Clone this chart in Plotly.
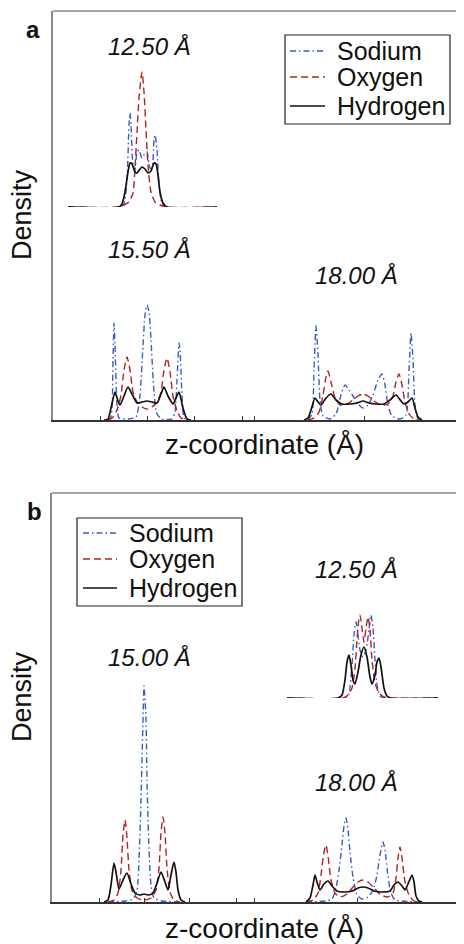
import plotly.graph_objects as go

# ---------------- data (z in arbitrary Å-like units, density in arbitrary units) ----------------
species = ["Sodium", "Oxygen", "Hydrogen"]

# Panel a, 15.50 Å
a1550_na_z = [5.5,5.8,6.0,6.1,6.2,6.4,6.6,7.5,8.3,8.7,9.0,9.2,9.4,9.6,9.8,10.1,10.4,10.9,11.9,12.2,12.4,12.6,12.7,12.9,13.1,13.4]
a1550_na_d = [0,0.03,0.60,0.97,0.75,0.15,0.02,0.01,0.03,0.25,0.75,1.05,1.15,1.08,0.80,0.28,0.06,0.01,0.01,0.08,0.40,0.77,0.70,0.25,0.02,0]
a1550_o_z = [5.5,5.9,6.4,6.8,7.1,7.4,7.7,8.0,8.4,8.9,9.4,9.9,10.4,10.8,11.1,11.4,11.7,12.0,12.4,12.8,13.3]
a1550_o_d = [0,0.02,0.10,0.25,0.50,0.63,0.50,0.28,0.18,0.13,0.11,0.13,0.18,0.28,0.50,0.62,0.48,0.24,0.09,0.02,0]
a1550_h_z = [5.1,5.5,5.8,6.2,6.5,6.7,7.1,7.5,7.9,8.4,8.9,9.4,9.9,10.4,10.8,11.1,11.5,12.0,12.3,12.6,13.0,13.4,13.8]
a1550_h_d = [0,0.01,0.12,0.28,0.19,0.15,0.24,0.33,0.26,0.17,0.18,0.19,0.18,0.17,0.26,0.33,0.24,0.16,0.22,0.28,0.12,0.01,0]

# Panel a, 18.00 Å
a1800_na_z = [25.5,25.9,26.1,26.3,26.5,26.7,27.0,27.7,28.3,28.8,29.2,29.6,30.0,30.5,31.0,31.5,32.0,32.5,32.9,33.2,33.5,33.9,34.7,35.3,35.6,35.8,36.0,36.2,36.5,36.8]
a1800_na_d = [0,0.06,0.50,0.94,0.65,0.20,0.04,0.01,0.06,0.25,0.35,0.30,0.24,0.16,0.12,0.15,0.25,0.40,0.46,0.35,0.15,0.04,0.01,0.05,0.50,0.87,0.60,0.15,0.01,0]
a1800_o_z = [25.5,26.1,26.6,27.0,27.3,27.5,27.8,28.2,28.7,29.4,30.0,30.5,31.0,31.5,32.1,32.8,33.5,34.0,34.3,34.6,34.9,35.2,35.6,36.1,36.5]
a1800_o_d = [0,0.02,0.08,0.25,0.43,0.49,0.38,0.22,0.15,0.16,0.20,0.24,0.26,0.24,0.19,0.15,0.16,0.24,0.38,0.46,0.35,0.18,0.06,0.01,0]
a1800_h_z = [25.1,25.5,25.8,26.2,26.5,26.8,27.3,27.8,28.3,28.9,29.7,30.4,31.0,31.6,32.3,33.1,33.7,34.3,34.8,35.1,35.5,35.9,36.2,36.5,36.9]
a1800_h_d = [0,0.02,0.10,0.22,0.18,0.15,0.22,0.26,0.20,0.16,0.16,0.17,0.19,0.17,0.16,0.16,0.20,0.25,0.19,0.16,0.18,0.22,0.12,0.03,0]

# Panel a, 12.50 Å (inset)
a1250_na_z = [0,5.2,5.6,5.9,6.1,6.2,6.3,6.5,6.7,6.9,7.1,7.4,7.7,7.9,8.2,8.4,8.6,8.7,8.9,9.1,9.4,9.8,14.9]
a1250_na_d = [0,0,0.03,0.27,0.82,0.94,0.82,0.42,0.37,0.55,0.57,0.49,0.54,0.55,0.39,0.39,0.67,0.72,0.57,0.22,0.04,0,0]
a1250_o_z = [0,5.0,5.6,6.1,6.5,6.7,6.9,7.1,7.4,7.6,7.8,8.0,8.3,8.7,9.2,9.8,14.9]
a1250_o_d = [0,0,0.02,0.05,0.14,0.39,0.75,1.09,1.35,1.15,0.77,0.42,0.15,0.05,0.02,0,0]
a1250_h_z = [0,5.1,5.4,5.7,6.0,6.2,6.4,6.7,6.9,7.2,7.4,7.7,8.0,8.3,8.6,8.8,9.0,9.2,9.5,9.9,14.9]
a1250_h_d = [0,0,0.03,0.15,0.35,0.44,0.43,0.35,0.34,0.38,0.40,0.38,0.34,0.36,0.44,0.43,0.32,0.15,0.04,0,0]

# Panel b, 15.00 Å
b1500_na_z = [5.6,7.3,8.1,8.5,8.7,8.9,9.1,9.2,9.4,9.5,9.7,9.9,10.2,11.0,12.8]
b1500_na_d = [0,0.01,0.03,0.12,0.42,1.02,1.82,2.16,1.82,1.22,0.52,0.17,0.04,0.01,0]
b1500_o_z = [5.6,6.2,6.6,6.9,7.1,7.3,7.5,7.7,8.0,8.5,9.2,9.9,10.4,10.7,10.9,11.1,11.3,11.5,11.8,12.2,12.8]
b1500_o_d = [0,0.02,0.09,0.32,0.67,0.82,0.64,0.32,0.12,0.04,0.02,0.04,0.12,0.34,0.69,0.85,0.69,0.34,0.10,0.02,0]
b1500_h_z = [5.2,5.6,5.9,6.2,6.4,6.7,7.1,7.5,7.9,8.3,8.8,9.2,9.7,10.1,10.5,10.9,11.3,11.6,11.9,12.2,12.4,12.6,12.9,13.3]
b1500_h_d = [0,0.02,0.17,0.39,0.30,0.13,0.22,0.29,0.18,0.09,0.07,0.08,0.07,0.09,0.19,0.30,0.20,0.12,0.27,0.40,0.30,0.12,0.02,0]

# Panel b, 18.00 Å
b1800_na_z = [25.4,27.3,28.0,28.4,28.7,29.0,29.2,29.4,29.6,29.8,30.1,30.5,31.0,31.6,32.1,32.5,32.8,33.1,33.3,33.6,33.9,34.3,35.0,36.8]
b1800_na_d = [0,0.01,0.03,0.14,0.32,0.57,0.76,0.84,0.72,0.50,0.25,0.07,0.03,0.05,0.12,0.27,0.47,0.60,0.52,0.26,0.09,0.02,0.01,0]
b1800_o_z = [25.4,26.1,26.6,26.9,27.2,27.4,27.6,27.9,28.3,28.8,29.5,30.1,30.6,31.1,31.6,32.2,32.9,33.6,34.1,34.4,34.6,34.8,35.0,35.3,35.7,36.2,36.8]
b1800_o_d = [0,0.02,0.09,0.27,0.50,0.57,0.46,0.22,0.09,0.05,0.08,0.15,0.20,0.22,0.20,0.14,0.07,0.05,0.09,0.24,0.44,0.55,0.44,0.20,0.07,0.01,0]
b1800_h_z = [25.4,25.8,26.1,26.3,26.5,26.8,27.2,27.6,28.0,28.5,29.3,30.0,30.6,31.1,31.6,32.2,33.0,33.8,34.2,34.6,35.0,35.3,35.6,36.0,36.2,36.4,36.7,37.0]
b1800_h_d = [0,0.04,0.17,0.27,0.20,0.12,0.18,0.21,0.16,0.11,0.10,0.11,0.14,0.15,0.14,0.11,0.10,0.11,0.17,0.20,0.16,0.12,0.18,0.27,0.20,0.06,0.01,0]

# Panel b, 12.50 Å (inset)
b1250_na_z = [0,5.9,6.2,6.5,6.7,6.9,7.1,7.3,7.6,7.9,8.2,8.4,8.6,8.8,9.0,9.3,9.7,15.1]
b1250_na_d = [0,0,0.04,0.33,0.63,0.76,0.63,0.48,0.41,0.48,0.68,0.83,0.70,0.38,0.13,0.02,0,0]
b1250_o_z = [0,5.6,6.1,6.5,6.8,7.0,7.2,7.3,7.5,7.7,7.9,8.1,8.3,8.5,8.8,9.2,9.7,10.1,15.1]
b1250_o_d = [0,0,0.03,0.10,0.30,0.58,0.80,0.83,0.70,0.56,0.70,0.81,0.68,0.38,0.15,0.05,0.01,0,0]
b1250_h_z = [0,5.1,5.5,5.8,6.0,6.2,6.4,6.6,6.8,7.1,7.4,7.7,8.0,8.3,8.5,8.8,9.0,9.2,9.4,9.7,10.0,10.4,15.1]
b1250_h_d = [0,0,0.03,0.18,0.36,0.43,0.33,0.18,0.14,0.26,0.43,0.51,0.41,0.21,0.14,0.23,0.36,0.40,0.31,0.10,0.02,0,0]

a_ticks = [4.7, 9.4, 14.1, 18.9, 20.1, 31.1]
b_ticks = [4.7, 9.2, 13.7, 18.4, 20.2, 30.5]

a_labels = ["12.50 Å", "15.50 Å", "18.00 Å"]
b_labels = ["12.50 Å", "15.00 Å", "18.00 Å"]

# ---------------- styling / layout ----------------
W, H = 464, 944          # target picture size
OFF = 8                  # browser default body margin
FW, FH = W - OFF, H - OFF  # figure size so that it fills the window
FONT = "Liberation Sans, Arial, Helvetica, sans-serif"
styles = {
    "Sodium": dict(color="#3a5bc7", width=1.4, dash="6px,3px,1.5px,3px"),
    "Oxygen": dict(color="#b52025", width=1.4, dash="7px,4px"),
    "Hydrogen": dict(color="#111111", width=1.7, dash="solid"),
}

def px_x(p):
    return (p - OFF) / FW

def px_y(p):
    return 1 - (p - OFF) / FH

fig = go.Figure()

def add_group(zs, ds, xa, ya):
    for name, z, d in zip(species, zs, ds):
        fig.add_trace(go.Scatter(
            x=z, y=d, mode="lines", name=name,
            line=dict(shape="spline", smoothing=0.6, **styles[name]),
            xaxis=xa, yaxis=ya, showlegend=False, hoverinfo="skip",
        ))

add_group([a1550_na_z, a1550_o_z, a1550_h_z], [a1550_na_d, a1550_o_d, a1550_h_d], "x", "y")
add_group([a1800_na_z, a1800_o_z, a1800_h_z], [a1800_na_d, a1800_o_d, a1800_h_d], "x", "y")
add_group([a1250_na_z, a1250_o_z, a1250_h_z], [a1250_na_d, a1250_o_d, a1250_h_d], "x3", "y3")
add_group([b1500_na_z, b1500_o_z, b1500_h_z], [b1500_na_d, b1500_o_d, b1500_h_d], "x2", "y2")
add_group([b1800_na_z, b1800_o_z, b1800_h_z], [b1800_na_d, b1800_o_d, b1800_h_d], "x2", "y2")
add_group([b1250_na_z, b1250_o_z, b1250_h_z], [b1250_na_d, b1250_o_d, b1250_h_d], "x4", "y4")

frame_x = dict(showline=True, linecolor="#333333", linewidth=1.5, ticks="inside", ticklen=4,
               tickcolor="#333333", tickwidth=1, showticklabels=False, showgrid=False, zeroline=False)
frame_y = dict(showline=True, linecolor="#8a8a8a", linewidth=1.5, ticks="", showticklabels=False,
               showgrid=False, zeroline=False)
hidden = dict(visible=False, showgrid=False, zeroline=False)

a_left, a_top, a_bot = 53, 11, 420
b_left, b_top, b_bot = 52, 493, 902

fig.update_layout(
    width=FW, height=FH, margin=dict(l=0, r=0, t=0, b=0),
    paper_bgcolor="white", plot_bgcolor="white",
    font=dict(family=FONT, color="#111111"),
    showlegend=False,
    xaxis=dict(domain=[px_x(a_left), 1], range=[0, (W - a_left) / 10], tickvals=a_ticks, anchor="y", **frame_x),
    yaxis=dict(domain=[px_y(a_bot), px_y(a_top)], range=[0, (a_bot - a_top) / 100], anchor="x", **frame_y),
    xaxis2=dict(domain=[px_x(b_left), 1], range=[0, (W - b_left) / 10], tickvals=b_ticks, anchor="y2", **frame_x),
    yaxis2=dict(domain=[px_y(b_bot), px_y(b_top)], range=[0, (b_bot - b_top) / 100], anchor="x2", **frame_y),
    xaxis3=dict(domain=[px_x(68), px_x(217)], range=[0, 14.9], anchor="y3", **hidden),
    yaxis3=dict(domain=[px_y(207), px_y(62)], range=[0, 1.45], anchor="x3", **hidden),
    xaxis4=dict(domain=[px_x(287), px_x(438)], range=[0, 15.1], anchor="y4", **hidden),
    yaxis4=dict(domain=[px_y(698), px_y(598)], range=[0, 1.0], anchor="x4", **hidden),
)

shapes = []
# top frame lines
for top, left in [(a_top, a_left), (b_top, b_left)]:
    shapes.append(dict(type="line", xref="paper", yref="paper", x0=px_x(left), x1=1, y0=px_y(top), y1=px_y(top),
                       line=dict(color="#8a8a8a", width=1.5)))

ann = []
def label(text, cx, cy, size, xanchor="center", **kw):
    ann.append(dict(text=text, x=px_x(cx), y=px_y(cy), xref="paper", yref="paper", showarrow=False,
                    xanchor=xanchor, yanchor="middle", borderpad=0,
                    font=dict(size=size, family=FONT, color="#111111"), **kw))

# legends (box, key lines, text)
legend_boxes = [
    dict(box=(285, 35, 450, 124), key_x=(290, 325), text_x=336, rows=[51, 77, 106]),
    dict(box=(77, 518, 242, 606), key_x=(83, 117), text_x=128, rows=[533, 559, 588]),
]
for lg in legend_boxes:
    x0, y0, x1, y1 = lg["box"]
    shapes.append(dict(type="rect", xref="paper", yref="paper", x0=px_x(x0), x1=px_x(x1), y0=px_y(y0), y1=px_y(y1),
                       line=dict(color="#222222", width=1.2), fillcolor="white", layer="above"))
    for name, yy in zip(species, lg["rows"]):
        st = styles[name]
        shapes.append(dict(type="line", xref="paper", yref="paper", x0=px_x(lg["key_x"][0]), x1=px_x(lg["key_x"][1]),
                           y0=px_y(yy), y1=px_y(yy), layer="above",
                           line=dict(color=st["color"], width=st["width"], dash=st["dash"])))
        label(name, lg["text_x"], yy, 25, xanchor="left")

# curve labels (italic)
for t, (cx, cy) in zip(a_labels, [(149, 47), (149, 250), (356, 275)]):
    label("<i>%s</i>" % t, cx, cy, 24)
for t, (cx, cy) in zip(b_labels, [(356, 569), (149, 657), (356, 782)]):
    label("<i>%s</i>" % t, cx, cy, 24)

label("<b>a</b>", 33, 29, 24)
label("<b>b</b>", 34, 511, 24)
label("Density", 22, 215, 27, textangle=-90)
label("Density", 22, 697, 27, textangle=-90)
label("z-coordinate (Å)", 264, 444, 28)
label("z-coordinate (Å)", 264, 928, 28)

fig.update_layout(shapes=shapes, annotations=ann)
fig.write_html("out.html")
